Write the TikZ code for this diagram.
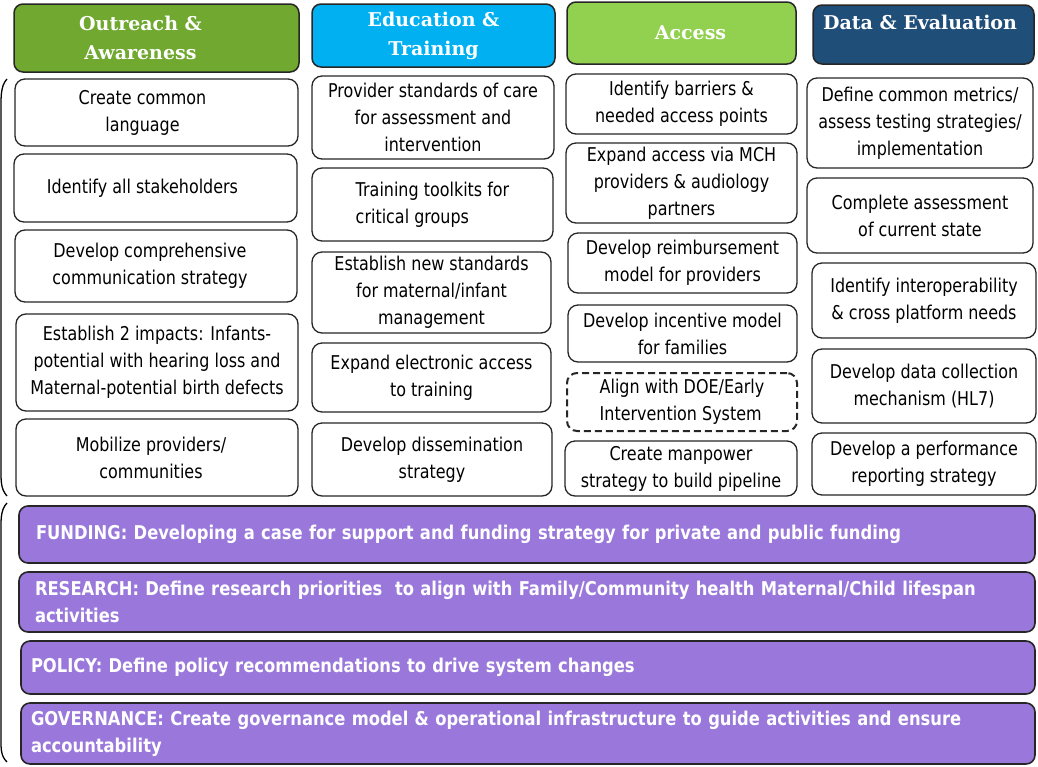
\documentclass[tikz,border=0pt]{standalone}
\usepackage{fontspec}
\setmainfont{DejaVu Sans}
\newfontfamily\bodyfont[FakeStretch=0.84]{DejaVu Sans}
\newfontfamily\barfont[FakeStretch=0.86]{DejaVu Sans}
\newfontfamily\headfont{DejaVu Serif}
\definecolor{outreach}{HTML}{70A830}
\definecolor{educ}{HTML}{00B0F0}
\definecolor{access}{HTML}{92D050}
\definecolor{dataeval}{HTML}{1F4E79}
\definecolor{purp}{HTML}{9A78DB}
\newcommand\mycell[7][]{\node[cellbox,minimum width={(#5-#3)*1pt},minimum height={(#6-#4)*1pt},#1] (#2) at ({(#3+#5)/2},{(#4+#6)/2}) {#7};}
\begin{document}
\begin{tikzpicture}[x=1pt,y=-1pt,
  hdr/.style={draw=black!85,line width=1.5pt,rounded corners=9pt,text=white,font=\headfont\bfseries\fontsize{19}{29}\selectfont,align=center,inner sep=0pt},
  cellbox/.style={draw=black!85,line width=1.3pt,rounded corners=10pt,fill=white,font=\bodyfont\fontsize{19}{27}\selectfont,align=center,inner sep=0pt},
  dashbox/.style={line width=2pt,dash pattern=on 7pt off 4pt},
  bar/.style={draw=black!85,line width=1.6pt,rounded corners=9pt,fill=purp,text=white,font=\barfont\bfseries\fontsize{19}{27}\selectfont,align=left,inner ysep=0pt},
  brace/.style={line width=1.3pt}]
\useasboundingbox (0,0) rectangle (1038,766);

% headers
\mycell[hdr,fill=outreach]{h1}{14}{4}{299}{72}{Outreach \&\hspace*{32pt}\\Awareness\hspace*{32pt}}
\mycell[hdr,fill=educ]{h2}{312}{4}{555}{67}{Education \&\\Training}
\mycell[hdr,fill=access]{h3}{567}{2}{796}{64}{\hspace*{18pt}Access}
\mycell[hdr,fill=dataeval]{h4}{813}{5}{1034}{64}{}
\node[text=white,font=\headfont\bfseries\fontsize{19}{29}\selectfont,inner sep=0pt] (h4t) at (920,22) {Data \& Evaluation};

% column 1
\mycell{c11}{15}{79}{298}{146}{Create common\hspace*{28pt}\\language\hspace*{28pt}}
\mycell{c12}{14}{154}{297}{222}{Identify all stakeholders\hspace*{26pt}}
\mycell{c13}{15}{230}{297}{302}{Develop comprehensive\hspace*{12pt}\\communication strategy\hspace*{12pt}}
\mycell{c14}{16}{314}{298}{411}{Establish 2 impacts: Infants-\\potential with hearing loss and\\Maternal-potential birth defects}
\mycell{c15}{16}{419}{298}{496}{Mobilize providers/\hspace*{12pt}\\communities\hspace*{12pt}}

% column 2
\mycell{c21}{312}{76}{554}{159}{Provider standards of care\\for assessment and\\intervention}
\mycell[align=left]{c22}{312}{168}{553}{241}{Training toolkits for\\critical groups}
\mycell{c23}{312}{252}{551}{333}{Establish new standards\\for maternal/infant\\management}
\mycell{c24}{312}{343}{551}{412}{Expand electronic access\\to training}
\mycell{c25}{312}{423}{552}{496}{Develop dissemination\\strategy}

% column 3
\mycell{c31}{566}{74}{797}{134}{Identify barriers \&\\needed access points}
\mycell{c32}{566}{143}{797}{223}{Expand access via MCH\\providers \& audiology\\partners}
\mycell{c33}{568}{233}{797}{293}{Develop reimbursement\\model for providers}
\mycell{c34}{568}{305}{797}{362}{Develop incentive model\\for families}
\mycell[dashbox,align=left]{c35}{567}{373}{797}{431}{Align with DOE/Early\\Intervention System}
\mycell{c36}{565}{441}{797}{496}{Create manpower\\strategy to build pipeline}

% column 4
\mycell{c41}{807}{78}{1033}{168}{Define common metrics/\\assess testing strategies/\\implementation}
\mycell{c42}{807}{178}{1033}{253}{Complete assessment\\of current state}
\mycell{c43}{812}{263}{1036}{338}{Identify interoperability\\\& cross platform needs}
\mycell{c44}{812}{349}{1036}{423}{Develop data collection\\mechanism (HL7)}
\mycell{c45}{812}{433}{1036}{495}{Develop a performance\\reporting strategy}

% bars
\node[bar,inner xsep=17pt,text width=982pt,minimum height=57pt] (funding) at (527,534.5) {FUNDING: Developing a case for support and funding strategy for private and public funding};
\node[bar,inner xsep=16pt,text width=984pt,minimum height=60pt] (research) at (527,602) {RESEARCH: Define research priorities\ \ to align with Family/Community health Maternal/Child lifespan\\activities};
\node[bar,inner xsep=10pt,text width=994pt,minimum height=53pt] (policy) at (528,667.5) {POLICY: Define policy recommendations to drive system changes};
\node[bar,inner xsep=10pt,text width=994pt,minimum height=61pt] (governance) at (528,733.5) {GOVERNANCE: Create governance model \& operational infrastructure to guide activities and ensure\\accountability};

% braces
\draw[brace] (7,79) .. controls (0,86) and (1,100) .. (1,115) -- (1,460) .. controls (1,480) and (0,488) .. (7,496);
\draw[brace] (7,503) .. controls (0,510) and (1,522) .. (1,535) -- (1,730) .. controls (1,748) and (0,755) .. (7,762);
\end{tikzpicture}
\end{document}
